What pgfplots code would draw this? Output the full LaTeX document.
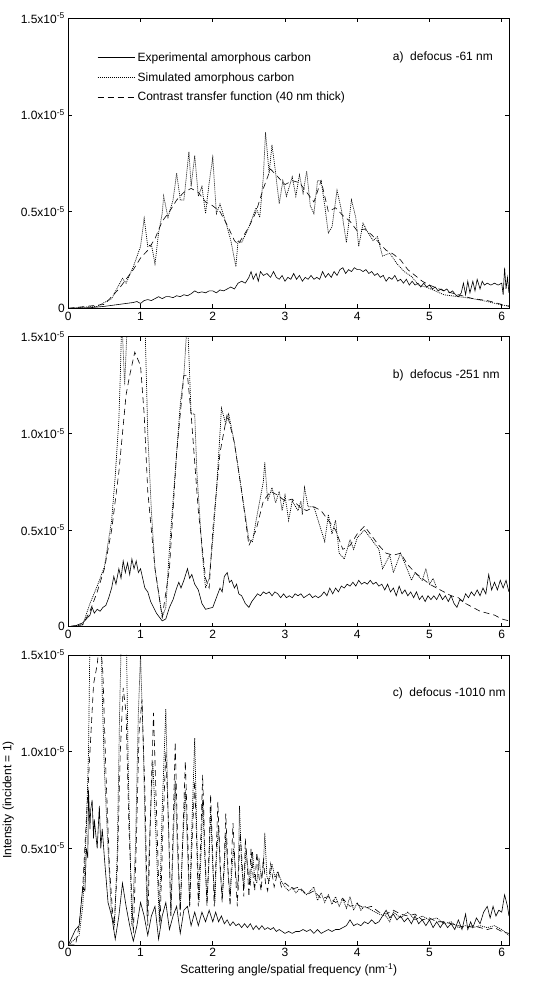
\documentclass[border=0pt]{standalone}
\usepackage{fontspec}
\setmainfont{Liberation Sans}
\usepackage{pgfplots}
\pgfplotsset{compat=1.18}
\pgfplotsset{
  panel/.style={
    scale only axis, width=441bp, height=290bp,
    xmin=0, xmax=6.105, ymin=0, ymax=1.5,
    xtick={0,1,2,3,4,5,6}, xticklabels={0,1,2,3,4,5,6},
    ytick={0,0.5,1,1.5},
    yticklabels={0,0.5x10\textsuperscript{-5},1.0x10\textsuperscript{-5},1.5x10\textsuperscript{-5}},
    tick align=inside, xtick pos=both, ytick pos=both,
    major tick length=4bp,
    axis line style={line width=0.7bp},
    every tick/.style={line width=0.7bp, black},
    tick label style={font=\fontsize{12bp}{14bp}\selectfont},
    label style={font=\fontsize{12bp}{14bp}\selectfont},
    anchor=south west,
  },
  exp/.style={black, line width=0.6bp},
  sim/.style={black, line width=0.7bp, dash pattern=on 1bp off 1bp},
  ctf/.style={black, line width=0.6bp, dash pattern=on 6bp off 4bp},
}
\begin{document}
\begin{tikzpicture}
\path[use as bounding box] (0,0) rectangle (546bp,998bp);
% ---------------- panel a ----------------
\begin{axis}[panel, at={(68.3bp,689.7bp)},
  legend image code/.code={\draw[#1] (0bp,0bp) -- (37bp,0bp);},
  legend style={draw=none, fill=none, inner sep=0pt, at={(axis cs:0.40,1.336)}, anchor=north west,
    font=\fontsize{12bp}{14bp}\selectfont, row sep=4.5bp, nodes={inner sep=2.5bp, anchor=west}},
  legend cell align=left]
\addplot[exp] coordinates {(0,0) (0.3,0.003) (0.5,0.01) (0.6,0.015) (0.7,0.02) (0.8,0.025) (0.9,0.03) (0.95,0.035) (1.0,0.025) (1.05,0.04) (1.1,0.045) (1.15,0.04) (1.2,0.05) (1.25,0.06) (1.3,0.05) (1.35,0.06) (1.4,0.06) (1.45,0.055) (1.5,0.065) (1.55,0.06) (1.6,0.07) (1.65,0.065) (1.7,0.075) (1.75,0.09) (1.8,0.08) (1.85,0.085) (1.9,0.08) (1.95,0.09) (2.0,0.09) (2.05,0.08) (2.1,0.095) (2.15,0.09) (2.2,0.10) (2.25,0.11) (2.3,0.10) (2.35,0.13) (2.4,0.14) (2.45,0.13) (2.5,0.16) (2.53,0.19) (2.56,0.15) (2.6,0.18) (2.63,0.14) (2.66,0.19) (2.7,0.17) (2.75,0.18) (2.8,0.16) (2.84,0.19) (2.88,0.16) (2.92,0.15) (2.96,0.17) (3.0,0.14) (3.04,0.16) (3.08,0.15) (3.12,0.18) (3.16,0.15) (3.2,0.17) (3.24,0.14) (3.28,0.16) (3.32,0.15) (3.36,0.17) (3.4,0.15) (3.44,0.16) (3.48,0.15) (3.52,0.19) (3.56,0.16) (3.6,0.18) (3.64,0.16) (3.68,0.19) (3.72,0.17) (3.76,0.2) (3.8,0.21) (3.84,0.18) (3.88,0.2) (3.92,0.19) (3.96,0.21) (4.0,0.2) (4.04,0.2) (4.08,0.19) (4.12,0.2) (4.16,0.18) (4.2,0.19) (4.24,0.17) (4.28,0.18) (4.32,0.16) (4.36,0.17) (4.4,0.14) (4.44,0.16) (4.48,0.15) (4.52,0.17) (4.56,0.14) (4.6,0.15) (4.64,0.13) (4.68,0.15) (4.72,0.12) (4.76,0.14) (4.8,0.12) (4.84,0.13) (4.88,0.11) (4.92,0.13) (4.96,0.11) (5.0,0.12) (5.04,0.1) (5.08,0.11) (5.12,0.09) (5.16,0.1) (5.2,0.09) (5.24,0.1) (5.28,0.08) (5.32,0.09) (5.36,0.07) (5.4,0.06) (5.44,0.08) (5.47,0.13) (5.5,0.07) (5.53,0.14) (5.56,0.08) (5.6,0.14) (5.63,0.09) (5.66,0.15) (5.7,0.1) (5.73,0.14) (5.76,0.12) (5.8,0.13) (5.85,0.12) (5.9,0.13) (5.95,0.12) (6.0,0.13) (6.02,0.07) (6.04,0.21) (6.06,0.1) (6.08,0.16) (6.1,0.08)};
\addlegendentry{Experimental amorphous carbon}
\addplot[sim] coordinates {(0,0) (0.4,0.01) (0.6,0.05) (0.75,0.155) (0.8,0.13) (0.9,0.215) (1.0,0.32) (1.05,0.465) (1.1,0.32) (1.15,0.33) (1.2,0.23) (1.25,0.39) (1.3,0.49) (1.32,0.58) (1.38,0.47) (1.45,0.56) (1.5,0.70) (1.55,0.56) (1.6,0.56) (1.62,0.63) (1.67,0.81) (1.7,0.63) (1.75,0.79) (1.8,0.58) (1.85,0.63) (1.9,0.49) (1.95,0.65) (2.0,0.78) (2.05,0.49) (2.1,0.54) (2.2,0.42) (2.25,0.35) (2.32,0.215) (2.35,0.35) (2.4,0.34) (2.5,0.42) (2.6,0.52) (2.65,0.47) (2.7,0.68) (2.73,0.91) (2.78,0.70) (2.82,0.845) (2.87,0.70) (2.92,0.54) (2.97,0.66) (3.02,0.58) (3.1,0.68) (3.15,0.58) (3.2,0.69) (3.25,0.595) (3.3,0.71) (3.35,0.53) (3.4,0.49) (3.45,0.66) (3.5,0.66) (3.55,0.53) (3.6,0.39) (3.65,0.42) (3.72,0.61) (3.78,0.51) (3.85,0.34) (3.92,0.56) (3.98,0.47) (4.02,0.32) (4.08,0.44) (4.15,0.39) (4.22,0.35) (4.28,0.37) (4.35,0.27) (4.45,0.285) (4.55,0.23) (4.65,0.19) (4.75,0.165) (4.85,0.12) (4.95,0.11) (5.05,0.095) (5.2,0.07) (5.4,0.06) (5.6,0.05) (5.8,0.035) (6.0,0.017) (6.1,0.012)};
\addlegendentry{Simulated amorphous carbon}
\addplot[ctf] coordinates {(0,0) (0.5,0.02) (0.7,0.1) (0.8,0.15) (0.9,0.2) (1.0,0.26) (1.1,0.3) (1.2,0.36) (1.3,0.45) (1.4,0.5) (1.5,0.56) (1.6,0.6) (1.7,0.62) (1.8,0.6) (1.9,0.55) (2.0,0.53) (2.1,0.5) (2.2,0.43) (2.3,0.35) (2.35,0.33) (2.4,0.36) (2.5,0.42) (2.6,0.5) (2.7,0.62) (2.8,0.72) (2.9,0.68) (3.0,0.64) (3.1,0.66) (3.2,0.65) (3.3,0.6) (3.4,0.55) (3.5,0.66) (3.6,0.5) (3.7,0.52) (3.8,0.48) (3.9,0.45) (4.0,0.4) (4.1,0.41) (4.2,0.38) (4.3,0.34) (4.4,0.3) (4.5,0.28) (4.6,0.25) (4.7,0.2) (4.8,0.17) (4.9,0.14) (5.0,0.12) (5.2,0.09) (5.4,0.07) (5.6,0.05) (5.8,0.04) (6.0,0.02) (6.1,0.01)};
\addlegendentry{Contrast transfer function (40 nm thick)}
\node[anchor=west, inner sep=0pt, font=\fontsize{12bp}{14bp}\selectfont] at (axis cs:4.49,1.30) {a)\ \ defocus -61 nm};
\end{axis}
% ---------------- panel b ----------------
\begin{axis}[panel, at={(68.3bp,371.3bp)}]
\addplot[exp] coordinates {(0,0) (0.1,0.005) (0.2,0.02) (0.3,0.06) (0.33,0.1) (0.36,0.07) (0.4,0.09) (0.44,0.08) (0.48,0.1) (0.52,0.11) (0.56,0.15) (0.6,0.2) (0.63,0.26) (0.66,0.22) (0.7,0.3) (0.73,0.25) (0.76,0.34) (0.79,0.28) (0.82,0.33) (0.85,0.27) (0.88,0.35) (0.91,0.3) (0.94,0.34) (0.97,0.28) (1.0,0.3) (1.03,0.25) (1.06,0.2) (1.1,0.18) (1.14,0.13) (1.18,0.1) (1.22,0.07) (1.26,0.05) (1.3,0.03) (1.35,0.04) (1.4,0.1) (1.45,0.14) (1.5,0.2) (1.53,0.23) (1.56,0.2) (1.6,0.24) (1.65,0.3) (1.68,0.25) (1.71,0.27) (1.75,0.22) (1.8,0.19) (1.85,0.12) (1.9,0.09) (2.0,0.1) (2.05,0.15) (2.1,0.2) (2.13,0.18) (2.16,0.26) (2.2,0.28) (2.23,0.23) (2.26,0.24) (2.3,0.2) (2.33,0.22) (2.36,0.17) (2.4,0.16) (2.45,0.12) (2.5,0.1) (2.54,0.13) (2.58,0.15) (2.62,0.17) (2.66,0.16) (2.7,0.18) (2.74,0.17) (2.78,0.18) (2.82,0.16) (2.86,0.18) (2.9,0.17) (2.94,0.15) (2.98,0.17) (3.02,0.15) (3.06,0.16) (3.1,0.15) (3.14,0.17) (3.18,0.16) (3.22,0.17) (3.26,0.15) (3.3,0.16) (3.34,0.17) (3.38,0.15) (3.42,0.16) (3.46,0.15) (3.5,0.16) (3.54,0.18) (3.58,0.16) (3.62,0.2) (3.66,0.17) (3.7,0.2) (3.74,0.18) (3.78,0.21) (3.82,0.2) (3.86,0.22) (3.9,0.21) (3.94,0.23) (3.98,0.21) (4.02,0.24) (4.06,0.22) (4.1,0.23) (4.14,0.22) (4.18,0.24) (4.22,0.22) (4.26,0.23) (4.3,0.21) (4.34,0.22) (4.38,0.19) (4.42,0.22) (4.46,0.18) (4.5,0.2) (4.54,0.16) (4.58,0.21) (4.62,0.17) (4.66,0.19) (4.7,0.16) (4.74,0.18) (4.78,0.15) (4.82,0.18) (4.86,0.14) (4.9,0.16) (4.94,0.13) (4.98,0.16) (5.02,0.14) (5.06,0.16) (5.1,0.14) (5.14,0.17) (5.18,0.14) (5.22,0.16) (5.26,0.13) (5.3,0.16) (5.34,0.12) (5.38,0.1) (5.42,0.14) (5.46,0.13) (5.5,0.17) (5.54,0.15) (5.58,0.18) (5.62,0.16) (5.66,0.19) (5.7,0.16) (5.74,0.2) (5.78,0.17) (5.82,0.27) (5.86,0.19) (5.9,0.23) (5.94,0.19) (5.98,0.24) (6.02,0.2) (6.06,0.24) (6.1,0.18)};
\addplot[sim] coordinates {(0,0) (0.2,0.01) (0.3,0.12) (0.4,0.21) (0.5,0.31) (0.55,0.43) (0.6,0.55) (0.65,0.78) (0.7,1.07) (0.72,1.3) (0.74,1.6) (0.78,1.25) (0.82,1.6) (1.06,1.6) (1.1,1.0) (1.15,0.6) (1.2,0.3) (1.3,0.05) (1.35,0.1) (1.4,0.4) (1.5,0.9) (1.55,1.15) (1.6,1.3) (1.65,1.6) (1.7,1.1) (1.75,1.1) (1.78,0.8) (1.85,0.4) (1.9,0.2) (1.95,0.25) (2.0,0.45) (2.05,0.7) (2.1,1.0) (2.12,1.13) (2.18,1.05) (2.22,1.1) (2.3,0.95) (2.4,0.7) (2.5,0.45) (2.55,0.44) (2.6,0.55) (2.7,0.75) (2.72,0.85) (2.76,0.65) (2.82,0.72) (2.87,0.64) (2.92,0.7) (2.96,0.6) (3.0,0.68) (3.05,0.55) (3.1,0.65) (3.18,0.6) (3.22,0.65) (3.24,0.58) (3.27,0.72) (3.32,0.62) (3.4,0.62) (3.5,0.5) (3.55,0.44) (3.6,0.58) (3.65,0.48) (3.7,0.55) (3.75,0.38) (3.82,0.35) (3.9,0.45) (3.95,0.4) (4.0,0.46) (4.1,0.5) (4.2,0.45) (4.3,0.4) (4.35,0.3) (4.45,0.37) (4.5,0.28) (4.55,0.33) (4.6,0.38) (4.7,0.29) (4.75,0.24) (4.8,0.28) (4.9,0.24) (4.95,0.3) (5.0,0.22) (5.05,0.25) (5.1,0.2)};
\addplot[ctf] coordinates {(0,0) (0.2,0.01) (0.3,0.08) (0.4,0.18) (0.5,0.3) (0.6,0.5) (0.7,0.8) (0.8,1.2) (0.85,1.3) (0.92,1.42) (1.0,1.35) (1.05,1.1) (1.1,0.7) (1.2,0.3) (1.3,0.05) (1.4,0.3) (1.5,0.9) (1.6,1.3) (1.65,1.3) (1.7,1.1) (1.8,0.6) (1.9,0.25) (1.95,0.2) (2.0,0.5) (2.1,0.9) (2.2,1.1) (2.3,0.95) (2.4,0.7) (2.5,0.42) (2.6,0.5) (2.7,0.65) (2.8,0.7) (2.9,0.68) (3.0,0.65) (3.1,0.66) (3.2,0.62) (3.3,0.6) (3.4,0.62) (3.5,0.6) (3.6,0.55) (3.7,0.5) (3.8,0.4) (3.9,0.42) (4.0,0.48) (4.1,0.52) (4.2,0.47) (4.3,0.42) (4.4,0.38) (4.5,0.37) (4.6,0.38) (4.7,0.32) (4.8,0.28) (4.9,0.25) (5.0,0.22) (5.1,0.2) (5.2,0.18) (5.3,0.16) (5.4,0.15) (5.5,0.12) (5.6,0.1) (5.7,0.08) (5.8,0.07) (5.9,0.06) (6.0,0.04) (6.1,0.03)};
\node[anchor=west, inner sep=0pt, font=\fontsize{12bp}{14bp}\selectfont] at (axis cs:4.49,1.30) {b)\ \ defocus -251 nm};
\end{axis}
% ---------------- panel c ----------------
\begin{axis}[panel, at={(68.3bp,53bp)},
  ylabel={Intensity (incident = 1)},
  xlabel={Scattering angle/spatial frequency (nm\textsuperscript{-1})}]
\addplot[exp] coordinates {(0,0) (0.05,0.04) (0.1,0.08) (0.15,0.1) (0.2,0.3) (0.23,0.28) (0.25,0.5) (0.27,0.45) (0.28,0.8) (0.3,0.6) (0.31,0.7) (0.33,0.75) (0.35,0.55) (0.36,0.65) (0.4,0.5) (0.43,0.72) (0.45,0.5) (0.47,0.6) (0.5,0.45) (0.55,0.22) (0.6,0.15) (0.65,0.03) (0.7,0.15) (0.75,0.32) (0.8,0.2) (0.85,0.1) (0.9,0.02) (0.95,0.1) (1.0,0.22) (1.05,0.15) (1.1,0.05) (1.15,0.15) (1.2,0.2) (1.25,0.03) (1.3,0.15) (1.35,0.22) (1.4,0.08) (1.45,0.15) (1.5,0.2) (1.55,0.06) (1.6,0.18) (1.65,0.2) (1.7,0.1) (1.75,0.17) (1.8,0.1) (1.85,0.17) (1.9,0.12) (1.95,0.18) (2.0,0.12) (2.04,0.17) (2.08,0.12) (2.12,0.15) (2.16,0.11) (2.2,0.13) (2.24,0.1) (2.28,0.12) (2.32,0.1) (2.36,0.11) (2.4,0.09) (2.44,0.11) (2.48,0.09) (2.52,0.11) (2.56,0.08) (2.6,0.1) (2.64,0.08) (2.68,0.1) (2.72,0.08) (2.76,0.09) (2.8,0.08) (2.84,0.09) (2.88,0.07) (2.92,0.08) (2.96,0.07) (3.0,0.06) (3.05,0.07) (3.1,0.06) (3.15,0.07) (3.2,0.07) (3.25,0.08) (3.3,0.07) (3.35,0.08) (3.4,0.06) (3.45,0.08) (3.5,0.06) (3.55,0.07) (3.6,0.08) (3.65,0.07) (3.7,0.08) (3.75,0.08) (3.8,0.09) (3.85,0.1) (3.9,0.13) (3.95,0.1) (4.0,0.11) (4.05,0.1) (4.1,0.12) (4.15,0.11) (4.2,0.13) (4.25,0.11) (4.3,0.12) (4.35,0.15) (4.4,0.18) (4.45,0.14) (4.5,0.16) (4.55,0.13) (4.6,0.15) (4.65,0.12) (4.7,0.14) (4.75,0.11) (4.8,0.15) (4.85,0.11) (4.9,0.13) (4.95,0.1) (5.0,0.13) (5.05,0.09) (5.1,0.12) (5.15,0.09) (5.2,0.12) (5.25,0.09) (5.3,0.11) (5.35,0.08) (5.4,0.13) (5.45,0.08) (5.5,0.16) (5.53,0.08) (5.57,0.12) (5.6,0.09) (5.65,0.14) (5.7,0.11) (5.75,0.17) (5.8,0.2) (5.84,0.14) (5.88,0.2) (5.92,0.15) (5.96,0.18) (6.0,0.17) (6.04,0.26) (6.08,0.2) (6.1,0.15)};
\addplot[sim] coordinates {(0,0) (0.15,0.05) (0.2,0.2) (0.25,0.6) (0.28,1.0) (0.3,1.6) (0.35,1.7) (0.4,1.6) (0.45,1.7) (0.47,1.3) (0.5,0.9) (0.55,0.5) (0.6,0.15) (0.64,0.1) (0.68,0.5) (0.71,1.2) (0.74,1.7) (0.8,1.7) (0.83,0.9) (0.88,0.1) (0.93,0.5) (0.97,1.2) (1.0,1.5) (1.04,1.0) (1.09,0.15) (1.13,0.6) (1.17,0.95) (1.21,0.6) (1.26,0.12) (1.3,0.7) (1.35,1.22) (1.38,0.7) (1.42,0.15) (1.45,0.5) (1.48,0.85) (1.51,0.5) (1.55,0.18) (1.58,0.5) (1.62,0.8) (1.65,0.5) (1.68,0.2) (1.71,0.6) (1.75,1.07) (1.78,0.55) (1.81,0.22) (1.84,0.5) (1.86,0.75) (1.89,0.45) (1.92,0.22) (1.95,0.45) (1.97,0.7) (2.0,0.4) (2.03,0.22) (2.05,0.45) (2.08,0.62) (2.1,0.4) (2.13,0.24) (2.16,0.4) (2.18,0.58) (2.21,0.38) (2.24,0.25) (2.27,0.42) (2.29,0.5) (2.32,0.35) (2.35,0.3) (2.37,0.72) (2.4,0.4) (2.43,0.3) (2.46,0.5) (2.49,0.38) (2.52,0.32) (2.55,0.48) (2.58,0.35) (2.61,0.32) (2.64,0.45) (2.67,0.35) (2.7,0.4) (2.72,0.58) (2.75,0.35) (2.78,0.33) (2.82,0.42) (2.86,0.35) (2.9,0.38) (2.95,0.33) (3.0,0.3) (3.05,0.28) (3.1,0.3) (3.15,0.27) (3.2,0.29) (3.3,0.26) (3.4,0.3) (3.45,0.23) (3.5,0.27) (3.55,0.22) (3.6,0.26) (3.65,0.21) (3.7,0.25) (3.75,0.2) (3.8,0.24) (3.85,0.19) (3.9,0.25) (3.95,0.18) (4.0,0.22) (4.05,0.18) (4.1,0.2) (4.2,0.18) (4.3,0.16) (4.4,0.15) (4.45,0.12) (4.5,0.17) (4.6,0.14) (4.7,0.17) (4.8,0.13) (4.9,0.15) (5.0,0.13) (5.1,0.14) (5.2,0.11) (5.3,0.12) (5.4,0.09) (5.5,0.1) (5.6,0.09) (5.7,0.1) (5.8,0.09) (5.9,0.1) (6.0,0.08) (6.1,0.05)};
\addplot[ctf] coordinates {(0,0) (0.1,0.0) (0.15,0.1) (0.2,0.3) (0.25,0.65) (0.3,1.0) (0.35,1.35) (0.4,1.45) (0.44,1.6) (0.48,1.4) (0.52,0.9) (0.57,0.4) (0.63,0.08) (0.68,0.4) (0.72,1.0) (0.76,1.33) (0.8,1.2) (0.84,0.6) (0.9,0.06) (0.94,0.5) (0.98,1.1) (1.02,1.27) (1.06,0.8) (1.1,0.1) (1.14,0.7) (1.18,1.2) (1.22,0.7) (1.27,0.1) (1.31,0.6) (1.35,1.0) (1.39,0.6) (1.42,0.15) (1.45,0.6) (1.48,1.05) (1.51,0.6) (1.55,0.15) (1.58,0.5) (1.62,0.95) (1.65,0.6) (1.68,0.2) (1.71,0.5) (1.75,0.85) (1.78,0.5) (1.8,0.2) (1.83,0.5) (1.86,0.88) (1.89,0.5) (1.92,0.2) (1.95,0.5) (1.97,0.78) (2.0,0.45) (2.02,0.2) (2.05,0.5) (2.07,0.74) (2.1,0.45) (2.13,0.22) (2.16,0.45) (2.18,0.68) (2.21,0.4) (2.24,0.2) (2.26,0.45) (2.28,0.63) (2.31,0.4) (2.34,0.2) (2.36,0.4) (2.38,0.58) (2.41,0.4) (2.43,0.25) (2.45,0.55) (2.48,0.4) (2.5,0.25) (2.53,0.5) (2.56,0.35) (2.58,0.28) (2.61,0.48) (2.64,0.35) (2.67,0.28) (2.7,0.45) (2.73,0.32) (2.76,0.28) (2.8,0.42) (2.85,0.3) (2.9,0.38) (2.95,0.3) (3.0,0.32) (3.1,0.29) (3.2,0.3) (3.3,0.26) (3.4,0.28) (3.5,0.24) (3.6,0.25) (3.7,0.22) (3.8,0.24) (3.9,0.2) (4.0,0.21) (4.1,0.19) (4.2,0.2) (4.3,0.17) (4.4,0.16) (4.5,0.18) (4.6,0.16) (4.7,0.15) (4.8,0.16) (4.9,0.13) (5.0,0.14) (5.1,0.12) (5.2,0.12) (5.3,0.11) (5.4,0.1) (5.5,0.09) (5.6,0.1) (5.7,0.09) (5.8,0.08) (5.9,0.09) (6.0,0.07) (6.1,0.06)};
\node[anchor=west, inner sep=0pt, font=\fontsize{12bp}{14bp}\selectfont] at (axis cs:4.49,1.30) {c)\ \ defocus -1010 nm};
\end{axis}
\end{tikzpicture}
\end{document}
